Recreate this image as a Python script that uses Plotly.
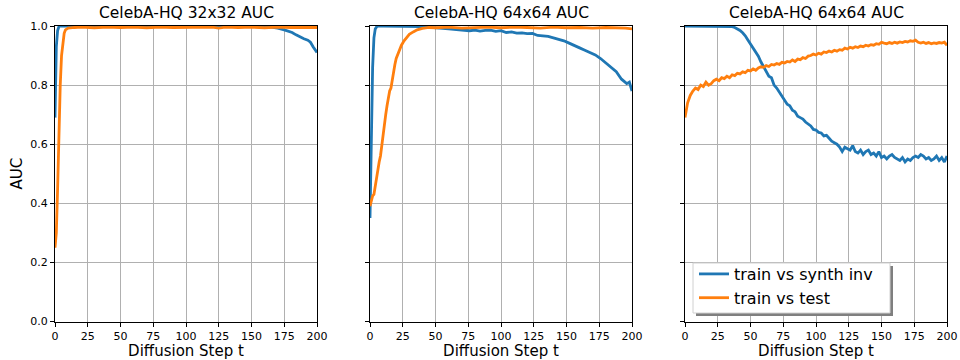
import plotly.graph_objects as go

# ---------------- data ----------------
TITLES = ["CelebA-HQ 32x32 AUC", "CelebA-HQ 64x64 AUC", "CelebA-HQ 64x64 AUC"]
SERIES_NAMES = ["train vs synth inv", "train vs test"]
X_TICKS = [0, 25, 50, 75, 100, 125, 150, 175, 200]
Y_TICKS = [0.0, 0.2, 0.4, 0.6, 0.8, 1.0]
Y_TICK_LABELS = ["0.0", "0.2", "0.4", "0.6", "0.8", "1.0"]

# Panel 1: CelebA-HQ 32x32
p1_synth_t = [0, 1, 2, 3, 4, 20, 40, 60, 80, 100, 120, 140, 160, 165, 170, 175, 178, 181,
              184, 187, 190, 193, 195, 197, 199, 200]
p1_synth_auc = [0.69, 0.93, 0.985, 0.998, 1.0, 1.0, 1.0, 1.0, 1.0, 1.0, 1.0, 0.999, 0.998, 0.996,
                0.993, 0.987, 0.983, 0.978, 0.970, 0.963, 0.957, 0.952, 0.945, 0.930, 0.915, 0.910]
p1_test_t = [0, 1, 2, 3, 4, 5, 6, 7, 8, 10, 15, 20, 30, 40, 50, 60, 70, 80, 90, 100, 110, 120,
             125, 130, 140, 150, 160, 170, 180, 190, 200]
p1_test_auc = [0.25, 0.30, 0.45, 0.65, 0.80, 0.90, 0.95, 0.975, 0.987, 0.993, 0.995, 0.996, 0.994,
               0.996, 0.995, 0.996, 0.994, 0.996, 0.995, 0.996, 0.995, 0.996, 0.993, 0.996, 0.995,
               0.996, 0.994, 0.996, 0.995, 0.996, 0.995]

# Panel 2: CelebA-HQ 64x64 (first)
p2_synth_t = [0, 1, 2, 3, 4, 5, 6, 10, 20, 30, 40, 44, 48, 52, 56, 60, 64, 68, 72, 76, 80, 84,
              88, 92, 96, 100, 104, 108, 112, 116, 120, 124, 128, 132, 136, 140, 144, 148, 152,
              156, 160, 164, 168, 172, 176, 180, 184, 188, 192, 196, 198, 200]
p2_synth_auc = [0.35, 0.62, 0.86, 0.96, 0.99, 0.997, 1.0, 1.0, 1.0, 1.0, 0.998, 0.996, 0.994,
                0.993, 0.992, 0.990, 0.989, 0.988, 0.986, 0.984, 0.986, 0.983, 0.985, 0.986,
                0.982, 0.984, 0.978, 0.980, 0.976, 0.977, 0.974, 0.975, 0.968, 0.966, 0.965,
                0.960, 0.956, 0.950, 0.942, 0.933, 0.926, 0.918, 0.910, 0.902, 0.890, 0.875,
                0.858, 0.845, 0.820, 0.805, 0.810, 0.780]
p2_test_t = [0, 1, 2, 3, 4, 5, 6, 7, 8, 9, 10, 11, 12, 13, 14, 15, 16, 17, 18, 19, 20, 22, 24,
             26, 28, 30, 33, 36, 40, 45, 50, 60, 70, 80, 90, 100, 110, 120, 130, 140, 150, 160,
             170, 180, 190, 195, 200]
p2_test_auc = [0.39, 0.41, 0.425, 0.43, 0.46, 0.48, 0.51, 0.54, 0.56, 0.60, 0.64, 0.67, 0.70,
               0.73, 0.76, 0.78, 0.79, 0.82, 0.85, 0.87, 0.89, 0.915, 0.935, 0.95, 0.962, 0.972,
               0.980, 0.987, 0.992, 0.995, 0.994, 0.996, 0.993, 0.995, 0.996, 0.994, 0.996,
               0.995, 0.993, 0.996, 0.994, 0.995, 0.993, 0.995, 0.994, 0.993, 0.990]

# Panel 3: CelebA-HQ 64x64 (second), sampled every 2 steps
p3_t = list(range(0, 201, 2))
p3_synth_auc = [1.0, 1.0, 1.0, 1.0, 1.0, 1.0, 1.0, 1.0, 1.0, 1.0, 1.0, 1.0, 1.0, 1.0, 1.0, 1.0,
                1.0, 1.0, 0.998, 0.995, 0.990, 0.985, 0.977, 0.967, 0.953, 0.940, 0.928, 0.915,
                0.898, 0.878, 0.862, 0.845, 0.830, 0.825, 0.800, 0.790, 0.775, 0.762, 0.750,
                0.735, 0.730, 0.715, 0.710, 0.695, 0.690, 0.685, 0.675, 0.668, 0.662, 0.650,
                0.648, 0.640, 0.638, 0.628, 0.630, 0.620, 0.610, 0.605, 0.600, 0.590, 0.575,
                0.590, 0.585, 0.580, 0.595, 0.575, 0.570, 0.580, 0.565, 0.575, 0.580, 0.565,
                0.570, 0.560, 0.575, 0.555, 0.560, 0.550, 0.560, 0.565, 0.555, 0.550, 0.545,
                0.555, 0.540, 0.550, 0.545, 0.555, 0.560, 0.555, 0.565, 0.560, 0.550, 0.555,
                0.545, 0.550, 0.560, 0.545, 0.555, 0.540, 0.560]
p3_test_auc = [0.69, 0.74, 0.765, 0.78, 0.79, 0.785, 0.80, 0.795, 0.81, 0.80, 0.805, 0.815,
               0.82, 0.815, 0.825, 0.822, 0.83, 0.825, 0.835, 0.832, 0.84, 0.838, 0.845, 0.842,
               0.85, 0.848, 0.855, 0.85, 0.858, 0.862, 0.86, 0.866, 0.863, 0.87, 0.868, 0.873,
               0.87, 0.877, 0.875, 0.88, 0.878, 0.885, 0.88, 0.888, 0.886, 0.893, 0.89, 0.898,
               0.90, 0.905, 0.902, 0.908, 0.905, 0.912, 0.91, 0.915, 0.912, 0.918, 0.915, 0.92,
               0.918, 0.925, 0.922, 0.928, 0.925, 0.93, 0.927, 0.932, 0.93, 0.935, 0.932, 0.937,
               0.935, 0.94, 0.938, 0.945, 0.942, 0.94, 0.944, 0.941, 0.945, 0.942, 0.946, 0.944,
               0.948, 0.946, 0.95, 0.948, 0.952, 0.945, 0.942, 0.945, 0.941, 0.944, 0.94, 0.943,
               0.941, 0.944, 0.942, 0.945, 0.935]

# ---------------- figure ----------------
BLUE = "#1f77b4"
ORANGE = "#ff7f0e"
FONT = "DejaVu Sans"
W, H = 960, 360

panels = [
    (p1_synth_t, p1_synth_auc, p1_test_t, p1_test_auc),
    (p2_synth_t, p2_synth_auc, p2_test_t, p2_test_auc),
    (p3_t, p3_synth_auc, p3_t, p3_test_auc),
]
x_px = [(55, 317), (370, 632), (685, 947)]
y_px = (26, 321.5)
y_dom = [1 - y_px[1] / H, 1 - y_px[0] / H]

fig = go.Figure()
for i, (ts, ys, tt, yt) in enumerate(panels):
    sfx = "" if i == 0 else str(i + 1)
    last = i == 2
    fig.add_trace(go.Scatter(x=ts, y=ys, mode="lines", name=SERIES_NAMES[0],
                             line=dict(color=BLUE, width=2.8), showlegend=last,
                             xaxis="x" + sfx, yaxis="y" + sfx))
    fig.add_trace(go.Scatter(x=tt, y=yt, mode="lines", name=SERIES_NAMES[1],
                             line=dict(color=ORANGE, width=2.8), showlegend=last,
                             xaxis="x" + sfx, yaxis="y" + sfx))

axis_common = dict(showline=True, mirror=True, linecolor="black", linewidth=1,
                   ticks="outside", ticklen=4, tickwidth=1, tickcolor="black",
                   showgrid=True, gridcolor="#b0b0b0", gridwidth=0.8, zeroline=False,
                   automargin=False,
                   tickfont=dict(family=FONT, size=11, color="black"))

layout = dict(width=W, height=H, margin=dict(l=0, r=0, t=0, b=0),
              paper_bgcolor="white", plot_bgcolor="white",
              font=dict(family=FONT, color="black"))
for i in range(3):
    sfx = "" if i == 0 else str(i + 1)
    xa = dict(axis_common, domain=[x_px[i][0] / W, x_px[i][1] / W], range=[0, 200],
              tickvals=X_TICKS, anchor="y" + sfx,
              title=dict(text="Diffusion Step t", font=dict(family=FONT, size=15), standoff=3))
    ya = dict(axis_common, domain=y_dom, range=[0, 1], tickvals=Y_TICKS,
              ticktext=Y_TICK_LABELS, anchor="x" + sfx, showticklabels=(i == 0))
    if i == 0:
        ya["title"] = dict(text="AUC", font=dict(family=FONT, size=15), standoff=4)
    else:
        ya["matches"] = "y"
    layout["xaxis" + sfx] = xa
    layout["yaxis" + sfx] = ya

fig.update_layout(**layout)

for i, t in enumerate(TITLES):
    fig.add_annotation(text=t, xref="paper", yref="paper",
                       x=(x_px[i][0] + x_px[i][1]) / 2 / W, y=1 - 13 / H,
                       xanchor="center", yanchor="middle", showarrow=False,
                       font=dict(family=FONT, size=15.5, color="black"))

# legend frame with drop shadow (drawn as shapes behind a transparent legend)
lg_x0, lg_y0, lg_x1, lg_y1 = 693, 263, 890, 313
fig.add_shape(type="rect", xref="paper", yref="paper", layer="above",
              x0=(lg_x0 + 3) / W, x1=(lg_x1 + 3) / W, y0=1 - (lg_y1 + 3) / H, y1=1 - (lg_y0 + 3) / H,
              fillcolor="#7f7f7f", line=dict(width=0))
fig.add_shape(type="rect", xref="paper", yref="paper", layer="above",
              x0=lg_x0 / W, x1=lg_x1 / W, y0=1 - lg_y1 / H, y1=1 - lg_y0 / H,
              fillcolor="white", line=dict(color="#d0d0d0", width=1))
fig.update_layout(legend=dict(x=(lg_x0 + 1) / W, y=1 - (lg_y0 - 6) / H, xanchor="left", yanchor="top",
                              bgcolor="rgba(0,0,0,0)", borderwidth=0,
                              font=dict(family=FONT, size=16, color="black"),
                              tracegroupgap=0, itemwidth=30))

fig.write_html("out.html", config={"displayModeBar": False},
               post_script="document.body.style.margin='0';")
